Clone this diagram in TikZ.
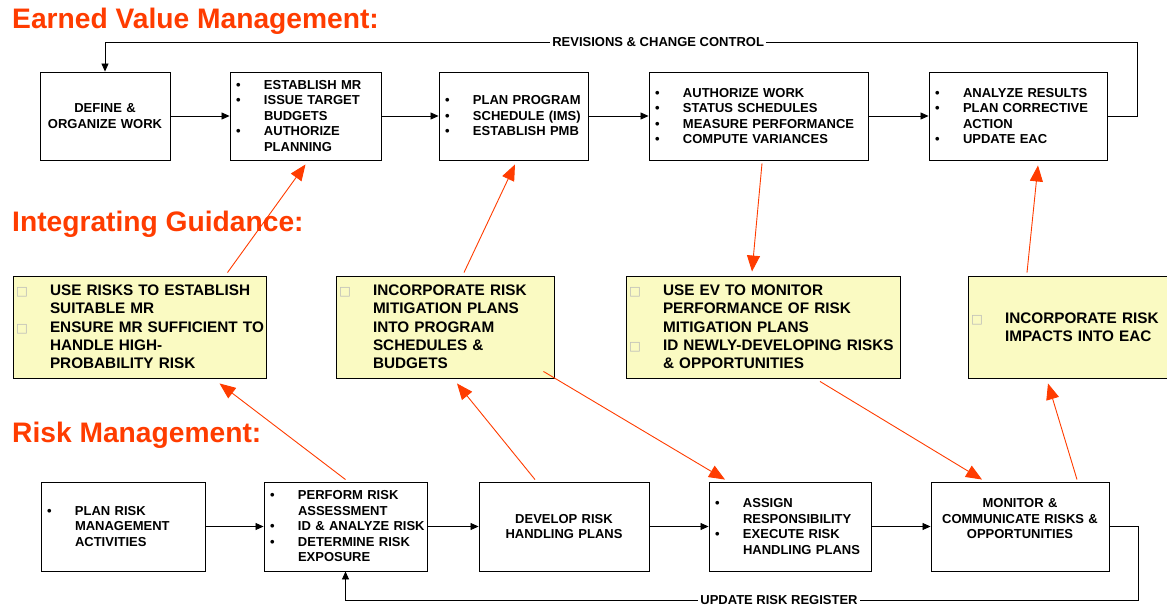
\documentclass[tikz,border=0pt]{standalone}
\usepackage{fontspec}
\setmainfont{Liberation Sans}
\newfontfamily\dejafont{DejaVu Sans}
\usetikzlibrary{arrows.meta,shadows}
\definecolor{hdred}{RGB}{255,60,0}
\definecolor{igyellow}{RGB}{250,250,194}
\newcommand\evb{\hspace*{6pt}\makebox[28pt][l]{•}}
\newcommand\evc{\hspace*{34pt}}
\newcommand\igb{\hspace*{3pt}\makebox[34pt][l]{\textcolor{gray!55}{\dejafont\fontsize{12.5}{12}\selectfont □}}}
\newcommand\igc{\hspace*{37pt}}
\begin{document}
\begin{tikzpicture}[x=1pt,y=-1pt,
  evbox/.style={draw,line width=0.9pt,fill=white,
    general shadow={fill=gray!60,shadow xshift=1.2pt,shadow yshift=-1.2pt},
    minimum height=88pt,inner xsep=0pt,inner ysep=0pt,
    font=\fontsize{13}{15.5}\selectfont\bfseries},
  igbox/.style={evbox,fill=igyellow,minimum height=102pt,
    font=\fontsize{15.3}{18.3}\selectfont\bfseries},
  wd/.style={minimum width=#1,text width=#1},
  blk/.style={line width=0.8pt,-{Triangle[length=8pt,width=7pt]}},
  rarrow/.style={hdred,line width=0.9pt,-{Triangle[length=16pt,width=13pt]}},
  lbl/.style={fill=white,inner sep=2.5pt,font=\fontsize{13}{15.5}\selectfont\bfseries},
  hd/.style={anchor=base west,text=hdred,inner sep=0pt,font=\fontsize{28.2}{32}\selectfont\bfseries}]
% headings
\node[hd] (H1) at (12,28) {Earned Value Management:};
\node[hd] (H2) at (12,231) {Integrating Guidance:};
\node[hd] (H3) at (12,442) {Risk Management:};
% earned value row
\node[evbox,wd=130pt,align=center] (EV1) at (105,116) {DEFINE \&\\ORGANIZE WORK};
\node[evbox,wd=151pt,align=left] (EV2) at (305.5,116) {\evb ESTABLISH MR\\\evb ISSUE TARGET\\\evc BUDGETS\\\evb AUTHORIZE\\\evc PLANNING};
\node[evbox,wd=149pt,align=left] (EV3) at (513.5,116) {\evb PLAN PROGRAM\\\evb SCHEDULE (IMS)\\\evb ESTABLISH PMB};
\node[evbox,wd=219pt,align=left] (EV4) at (758.5,116) {\evb AUTHORIZE WORK\\\evb STATUS SCHEDULES\\\evb MEASURE PERFORMANCE\\\evb COMPUTE VARIANCES};
\node[evbox,wd=178pt,align=left] (EV5) at (1018,116) {\evb ANALYZE RESULTS\\\evb PLAN CORRECTIVE\\\evc ACTION\\\evb UPDATE EAC};
% integrating guidance row
\node[igbox,wd=253pt,align=left] (IG1) at (139.5,327) {\igb USE RISKS TO ESTABLISH\\\igc SUITABLE MR\\\igb ENSURE MR SUFFICIENT TO\\\igc HANDLE HIGH-\\\igc PROBABILITY RISK};
\node[igbox,wd=218pt,align=left] (IG2) at (445,327) {\igb INCORPORATE RISK\\\igc MITIGATION PLANS\\\igc INTO PROGRAM\\\igc SCHEDULES \&\\\igc BUDGETS};
\node[igbox,wd=274pt,align=left] (IG3) at (763,327) {\igb USE EV TO MONITOR\\\igc PERFORMANCE OF RISK\\\igc MITIGATION PLANS\\\igb ID NEWLY-DEVELOPING RISKS\\\igc \& OPPORTUNITIES};
\node[igbox,wd=204pt,align=left] (IG4) at (1070,327) {\igb INCORPORATE RISK\\\igc IMPACTS INTO EAC};
% risk management row
\node[evbox,minimum height=89pt,wd=164pt,align=left] (RM1) at (123,526.5) {\evb PLAN RISK\\\evc MANAGEMENT\\\evc ACTIVITIES};
\node[evbox,minimum height=89pt,wd=163pt,align=left] (RM2) at (345.5,526.5) {\evb PERFORM RISK\\\evc ASSESSMENT\\\evb ID \& ANALYZE RISK\\\evb DETERMINE RISK\\\evc EXPOSURE};
\node[evbox,minimum height=89pt,wd=170pt,align=center] (RM3) at (564,526.5) {DEVELOP RISK\\HANDLING PLANS};
\node[evbox,minimum height=89pt,wd=162pt,align=left] (RM4) at (790,526.5) {\evb ASSIGN\\\evc RESPONSIBILITY\\\evb EXECUTE RISK\\\evc HANDLING PLANS};
\node[evbox,minimum height=89pt,wd=178pt,align=center] (RM5) at (1020,526.5) {MONITOR \&\\COMMUNICATE RISKS \&\\OPPORTUNITIES\\ \mbox{}};
% flow arrows
\foreach \a/\b in {EV1/EV2,EV2/EV3,EV3/EV4,EV4/EV5,RM1/RM2,RM2/RM3,RM3/RM4,RM4/RM5}
  \draw[blk] (\a.east) -- (\b.west);
% feedback loops
\coordinate (RC) at (1137,42);
\coordinate (UR) at (1138,600);
\draw[blk] (EV5.east) -| (RC) -- node[lbl,pos=0.464]{REVISIONS \& CHANGE CONTROL} (RC -| EV1.north) -- (EV1.north);
\draw[blk] (RM5.east) -| (UR) -- node[lbl,pos=0.453]{UPDATE RISK REGISTER} (UR -| RM2.south) -- (RM2.south);
% integrating links
\draw[rarrow] ([xshift=88pt,yshift=3pt]IG1.north) -- ([yshift=-4pt]EV2.south);
\draw[rarrow] ([xshift=19pt,yshift=3pt]IG2.north) -- ([xshift=1.5pt,yshift=-4pt]EV3.south);
\draw[rarrow] ([xshift=3.5pt,yshift=-3pt]EV4.south) -- ([xshift=-11pt,yshift=4pt]IG3.north);
\draw[rarrow] ([xshift=-43pt,yshift=3pt]IG4.north) -- ([xshift=20pt,yshift=-5pt]EV5.south);
\draw[rarrow] ([yshift=2pt]RM2.north) -- ([xshift=80pt,yshift=-5pt]IG1.south);
\draw[rarrow] ([xshift=-29pt,yshift=2pt]RM3.north) -- ([xshift=12pt,yshift=-5pt]IG2.south);
\draw[rarrow] ([xshift=-11pt,yshift=7pt]IG2.south east) -- ([xshift=-65pt,yshift=2pt]RM4.north);
\draw[rarrow] ([xshift=57pt,yshift=-3pt]IG3.south) -- ([xshift=-38pt,yshift=2pt]RM5.north);
\draw[rarrow] ([xshift=57pt,yshift=2pt]RM5.north) -- ([xshift=-22pt,yshift=-5pt]IG4.south);
\pgfresetboundingbox
\path[use as bounding box] (0,0) rectangle (1167,605);
\end{tikzpicture}
\end{document}
